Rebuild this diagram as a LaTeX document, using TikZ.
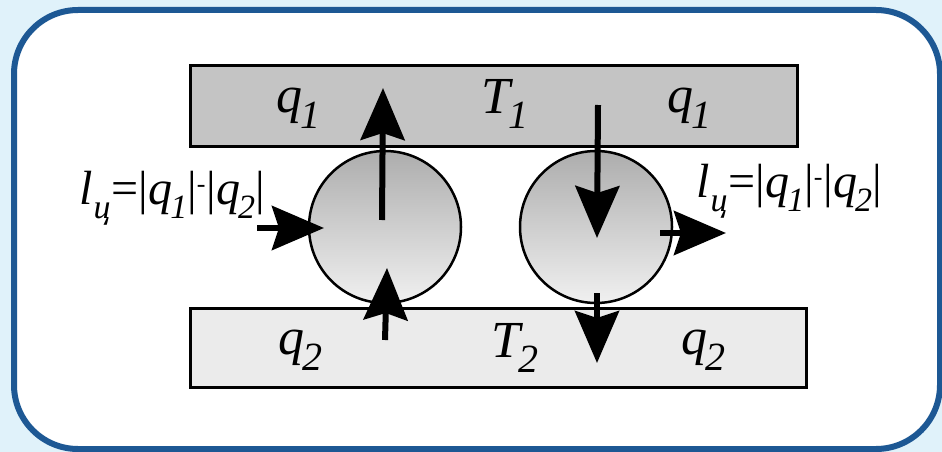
\documentclass[tikz,border=0pt]{standalone}
\usepackage{fontspec}
\setmainfont{Liberation Serif}
\usetikzlibrary{arrows.meta}
\definecolor{bgblue}{HTML}{E0F2FA}
\definecolor{frameblue}{HTML}{1D5894}
\definecolor{topgray}{HTML}{C4C4C4}
\definecolor{botgray}{HTML}{EBEBEB}
\definecolor{circtop}{HTML}{ADADAD}
\definecolor{circbot}{HTML}{F0F0F0}
\newcommand\sbs[2]{\raisebox{-0.3em}{\fontsize{#1}{#1}\selectfont #2}}
\newcommand\qlab[2]{\itshape #1\kern-2pt\sbs{40}{#2}}
\newcommand\formula{\fontsize{48}{48}\selectfont\itshape l\kern1pt\sbs{34}{ц}\upshape\kern1pt=|\itshape q\kern-2pt\sbs{34}{1}\upshape|\raisebox{0.25em}{\fontsize{26}{26}\selectfont -}\kern1pt|\itshape q\kern-2pt\sbs{34}{2}\upshape|}
\begin{document}
\begin{tikzpicture}[x=1pt,y=-1pt,
  plate/.style={draw=black, line width=3pt, inner sep=0pt},
  disk/.style={circle, draw=black, line width=2.5pt, minimum size=152pt, inner sep=0pt, top color=circtop, bottom color=circbot},
  flow/.style={line width=6pt, -{Stealth[length=52pt,width=44pt,inset=7pt]}},
  big/.style={font=\fontsize{52}{52}\selectfont, inner sep=0pt},
  ]
\useasboundingbox (0,0) rectangle (942,452);
\fill[bgblue] (0,0) rectangle (942,452);
\node[draw=frameblue, line width=6pt, fill=white, rounded corners=64pt, minimum width=926pt, minimum height=439pt, inner sep=0pt, anchor=north west] (frame) at (11,7) {};
% plates
\node[plate, fill=topgray, minimum width=607pt, minimum height=80pt] (top) at (493.5,106) {};
\node[plate, fill=botgray, minimum width=616pt, minimum height=79pt] (bot) at (498,347.5) {};
% circles
\node[disk] (c1) at (385,227) {};
\node[disk] (c2) at (596,227) {};
% arrow end points
\coordinate (a1s) at (382,220); \coordinate (a1e) at (383,88);
\coordinate (a2s) at (385,340); \coordinate (a2e) at (387,268);
\coordinate (a3s) at (257,228); \coordinate (a3e) at (324,228);
\coordinate (a4s) at (598,105); \coordinate (a4e) at (597,238);
\coordinate (a5s) at (597,293); \coordinate (a5e) at (597,363);
\coordinate (a6s) at (660,233); \coordinate (a6e) at (726,233);
\draw[flow] (a1s) -- (a1e);
\draw[flow] (a2s) -- (a2e);
\draw[flow] (a3s) -- (a3e);
\draw[flow] (a4s) -- (a4e);
\draw[flow] (a5s) -- (a5e);
\draw[flow] (a6s) -- (a6e);
% texts
\node[big] (q1l) at (298,108) {\qlab{q}{1}};
\node[big] (t1) at (505,104) {\qlab{T}{1}};
\node[big] (q1r) at (689,108) {\qlab{q}{1}};
\node[big] (q2l) at (300,350) {\qlab{q}{2}};
\node[big] (t2) at (515,348) {\qlab{T}{2}};
\node[big] (q2r) at (703,350) {\qlab{q}{2}};
\node[inner sep=0pt] (fl) at (172,198) {\formula};
\node[inner sep=0pt] (fr) at (789,191) {\formula};
\end{tikzpicture}
\end{document}
